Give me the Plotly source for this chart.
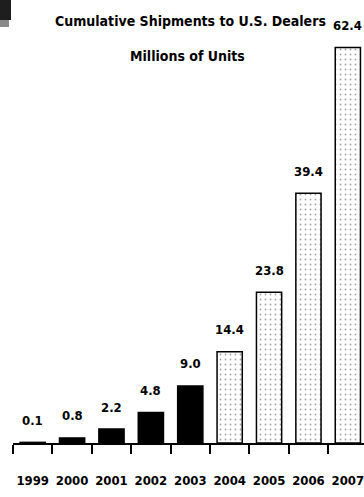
import plotly.graph_objects as go

years = ["1999", "2000", "2001", "2002", "2003", "2004", "2005", "2006", "2007"]
values = [0.1, 0.8, 2.2, 4.8, 9.0, 14.4, 23.8, 39.4, 62.4]
value_labels = ["0.1", "0.8", "2.2", "4.8", "9.0", "14.4", "23.8", "39.4", "62.4"]
actual_count = 5  # 1999-2003 solid black, later years projected

FONT = "DejaVu Sans Condensed, Roboto, Liberation Sans, sans-serif"

colors = ["black" if i < actual_count else "white" for i in range(len(years))]
shapes_pat = ["" if i < actual_count else "." for i in range(len(years))]

fig = go.Figure()
fig.add_trace(go.Bar(
    x=years, y=values,
    marker=dict(
        color=colors,
        line=dict(color="black", width=1.5),
        pattern=dict(shape=shapes_pat, fgcolor="#cccccc", bgcolor="white",
                     size=5, solidity=0.1, fillmode="overlay"),
    ),
    width=0.64,
    hoverinfo="skip",
))

annotations = []
for i, (v, lab) in enumerate(zip(values, value_labels)):
    annotations.append(dict(x=i, y=v, xref="x", yref="y", text="<b>%s</b>" % lab,
                            showarrow=False, yshift=22, yanchor="middle", xanchor="center",
                            font=dict(family=FONT, size=13, color="black")))
annotations.append(dict(xref="paper", yref="paper", x=0.505, y=1, yshift=-9,
                        text="<b>Cumulative Shipments to U.S. Dealers</b>",
                        showarrow=False, xanchor="center", yanchor="middle",
                        font=dict(family=FONT, size=14, color="black")))
annotations.append(dict(xref="paper", yref="paper", x=0.497, y=1, yshift=-44,
                        text="<b>Millions of Units</b>",
                        showarrow=False, xanchor="center", yanchor="middle",
                        font=dict(family=FONT, size=14, color="black")))

fig.update_layout(
    width=364, height=497,
    margin=dict(l=13, r=0, t=12, b=54, autoexpand=False),
    paper_bgcolor="white", plot_bgcolor="white",
    showlegend=False,
    annotations=annotations,
    shapes=[
        dict(type="rect", xref="paper", yref="paper", x0=-13/351, x1=-2/351,
             y0=1 - 8/431, y1=1 + 12/431, fillcolor="#1e1e1e", line=dict(width=0)),
        dict(type="rect", xref="paper", yref="paper", x0=-13/351, x1=-4/351,
             y0=1 - 15/431, y1=1 - 8/431, fillcolor="#8a8a8a", line=dict(width=0)),
    ],
    xaxis=dict(
        type="category", range=[-0.5, 8.41], automargin=False,
        showline=True, linecolor="black", linewidth=1.5,
        ticks="outside", tickson="boundaries", ticklen=9, tickwidth=1.5,
        tickcolor="black", showgrid=False, tickangle=0,
        tickfont=dict(family=FONT, size=13, color="black"),
        ticklabelstandoff=25,
        tickvals=years, ticktext=["<b>%s</b>" % y for y in years],
    ),
    yaxis=dict(visible=False, range=[0, 68.0], showgrid=False, zeroline=False,
               automargin=False),
)

fig.write_html("out.html", config={"displayModeBar": False},
               post_script="document.body.style.margin='0';")
